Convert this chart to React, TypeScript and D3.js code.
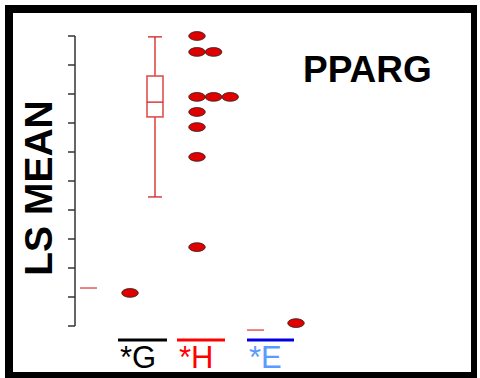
import React from "react";
import * as d3 from "d3";

const W = 480;
const H = 378;

// y-axis ticks (values)
const tickValues = [0, 1, 2, 3, 4, 5, 6, 7, 8, 9, 10];

// Group H individual values (dot column)
const hValues = [10, 9.45, 9.45, 7.9, 7.9, 7.9, 7.38, 6.86, 5.83, 2.72];
// Group G value
const gValues = [1.14];
// Group E value
const eValues = [0.1];

// Box plot summary (for H group)
const boxStats = { min: 4.45, q1: 7.21, median: 7.72, q3: 8.62, max: 9.97 };

// short red reference lines
const refLines = [1.31, -0.14];

// labels
const labels = ["*G", "*H", "*E"];
const labelColors = ["#000000", "#ff0000", "#5b9bff"];
const barColors = ["#000000", "#ff0000", "#0000e0"];

export default function App() {
  const y = d3.scaleLinear().domain([0, 10]).range([326, 36]);
  // x in "slot" units
  const x = d3.scaleLinear().domain([0, 20]).range([75, 475]);

  // stack dots that share a value horizontally
  const stacked: { v: number; i: number }[] = [];
  const counts = new Map<number, number>();
  hValues.forEach((v) => {
    const c = counts.get(v) ?? 0;
    counts.set(v, c + 1);
    stacked.push({ v, i: c });
  });

  const colH = 6.1;
  const colG = 2.75;
  const colE = 11.05;
  const colBox = 4;
  const dotStep = 0.83;

  const labelSlots = [
    { x0: 2.15, x1: 4.6 },
    { x0: 5.1, x1: 7.5 },
    { x0: 8.6, x1: 10.95 },
  ];
  const refSlots = [
    { x0: 0.25, x1: 1.1 },
    { x0: 8.6, x1: 9.45 },
  ];

  const ticks = y.ticks(10).filter((t) => tickValues.includes(t));

  return (
    <svg width={W} height={H} style={{ position: "absolute", left: 0, top: 0 }}>
      <rect x={0} y={0} width={W} height={H} fill="#fff" />
      {/* frame */}
      <rect x={5} y={5} width={8} height={373} fill="#000" />
      <rect x={5} y={5} width={472} height={8} fill="#000" />
      <rect x={471} y={5} width={6} height={373} fill="#000" />
      <rect x={5} y={372} width={472} height={6} fill="#000" />

      {/* axis */}
      <line x1={75} x2={75} y1={y(10)} y2={y(0)} stroke="#333" strokeWidth={1.5} />
      {ticks.map((t) => (
        <line key={t} x1={68} x2={75} y1={y(t)} y2={y(t)} stroke="#333" strokeWidth={1.5} />
      ))}

      <text
        transform={`translate(52,188) rotate(-90)`}
        textAnchor="middle"
        fontFamily="Liberation Sans, Arial, sans-serif"
        fontWeight="bold"
        fontSize={39}
        fill="#000"
      >
        LS MEAN
      </text>

      <text
        x={303}
        y={82}
        fontFamily="Liberation Sans, Arial, sans-serif"
        fontWeight="bold"
        fontSize={37}
        fill="#000"
      >
        PPARG
      </text>

      {/* box plot */}
      <g stroke="#d42020" fill="none" strokeWidth={1.3}>
        <line x1={x(colBox)} x2={x(colBox)} y1={y(boxStats.max)} y2={y(boxStats.q3)} />
        <line x1={x(colBox)} x2={x(colBox)} y1={y(boxStats.q1)} y2={y(boxStats.min)} />
        <line x1={x(colBox) - 7} x2={x(colBox) + 7} y1={y(boxStats.max)} y2={y(boxStats.max)} />
        <line x1={x(colBox) - 7} x2={x(colBox) + 7} y1={y(boxStats.min)} y2={y(boxStats.min)} />
        <rect
          x={x(colBox) - 8}
          y={y(boxStats.q3)}
          width={16}
          height={y(boxStats.q1) - y(boxStats.q3)}
          stroke="#e05050"
          strokeWidth={1.6}
        />
        <line x1={x(colBox) - 8} x2={x(colBox) + 8} y1={y(boxStats.median)} y2={y(boxStats.median)} />
      </g>

      {/* reference lines */}
      {refLines.map((v, i) => (
        <line
          key={i}
          x1={x(refSlots[i].x0)}
          x2={x(refSlots[i].x1)}
          y1={y(v)}
          y2={y(v)}
          stroke="#e03030"
          strokeWidth={1.2}
        />
      ))}

      {/* dots */}
      {stacked.map((d, k) => (
        <ellipse
          key={"h" + k}
          cx={x(colH + d.i * dotStep)}
          cy={y(d.v)}
          rx={8.3}
          ry={4.4}
          fill="#e00000"
          stroke="#222"
          strokeWidth={0.8}
        />
      ))}
      {gValues.map((v, k) => (
        <ellipse key={"g" + k} cx={x(colG)} cy={y(v)} rx={8.3} ry={4.4} fill="#e00000" stroke="#222" strokeWidth={0.8} />
      ))}
      {eValues.map((v, k) => (
        <ellipse key={"e" + k} cx={x(colE)} cy={y(v)} rx={8.3} ry={4.4} fill="#e00000" stroke="#222" strokeWidth={0.8} />
      ))}

      {/* group labels */}
      {labels.map((l, i) => (
        <g key={l}>
          <line
            x1={x(labelSlots[i].x0)}
            x2={x(labelSlots[i].x1)}
            y1={340}
            y2={340}
            stroke={barColors[i]}
            strokeWidth={3}
          />
          <text
            x={x(labelSlots[i].x0) + 2}
            y={368}
            fontFamily="Liberation Sans, Arial, sans-serif"
            fontSize={31}
            fill={labelColors[i]}
          >
            {l}
          </text>
        </g>
      ))}
    </svg>
  );
}
